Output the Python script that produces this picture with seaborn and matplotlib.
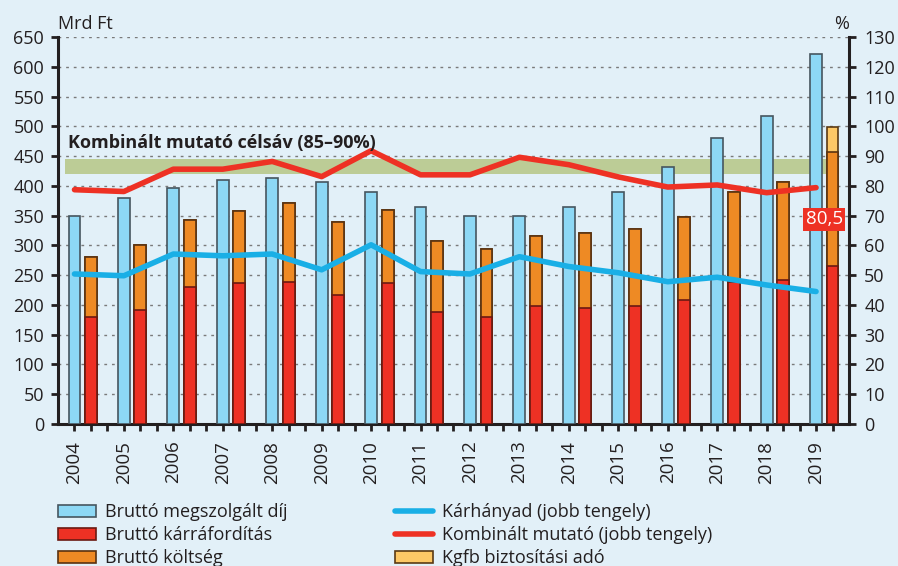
import matplotlib
matplotlib.use("Agg")
import matplotlib.pyplot as plt
from matplotlib.patches import Patch
from matplotlib.lines import Line2D
import numpy as np
import pandas as pd
import seaborn as sns

years = list(range(2004, 2020))
premium = [350, 380, 397, 410, 414, 407, 390, 364, 350, 350, 364, 390, 431, 481, 518, 621]
claims = [179, 192, 230, 236, 239, 216, 236, 188, 179, 199, 195, 199, 208, 238, 242, 266]
costs = [101, 108, 113, 121, 132, 124, 124, 119, 115, 117, 125, 128, 139, 152, 165, 191]
tax = [0, 0, 0, 0, 0, 0, 0, 0, 0, 0, 0, 0, 0, 0, 0, 42]
loss_ratio = [50.4, 49.8, 57.1, 56.5, 57.1, 51.8, 60.2, 51.2, 50.4, 56.2, 52.9, 50.8, 47.8, 49.3, 46.7, 44.5]
combined = [78.7, 78.1, 85.6, 85.6, 88.2, 83.1, 91.8, 83.7, 83.7, 89.6, 87.1, 83.0, 79.6, 80.3, 77.7, 79.4]
last_label = "80,5"
band = (84, 89)  # as drawn (labelled 85-90%)

C_BG = "#E2F0F8"
C_PREM = "#8DD8F5"
C_CLAIM = "#EE3124"
C_COST = "#EE8A24"
C_TAX = "#FDC866"
C_LOSS = "#19AFE6"
C_COMB = "#EE3124"
C_BAND = "#BCCC96"
C_TXT = "#231f20"

df = pd.DataFrame({"year": years, "premium": premium, "claims": claims,
                   "costs": costs, "tax": tax, "loss": loss_ratio, "comb": combined})
df["pos_prem"] = np.arange(len(years)) * 3
df["pos_stack"] = df["pos_prem"] + 1
df["top_cost"] = df["claims"] + df["costs"]
df["top_tax"] = df["top_cost"] + df["tax"]

sns.set_theme(style="ticks")
plt.rcParams["font.family"] = ["Open Sans", "DejaVu Sans"]
plt.rcParams["axes.linewidth"] = 2.2

fig = plt.figure(figsize=(8.98, 5.66), dpi=100, facecolor=C_BG)
ax = fig.add_axes([58 / 898, 1 - 424 / 566, 791 / 898, 387 / 566])
ax.set_facecolor(C_BG)

# target band
ax.axhspan(band[0] * 5, band[1] * 5, xmin=7 / 791, xmax=781 / 791, color=C_BAND, zorder=1, lw=0)

bar_kw = dict(native_scale=True, width=0.24, saturation=1, errorbar=None, ax=ax, zorder=3)
sns.barplot(data=df, x="pos_prem", y="premium", color=C_PREM, edgecolor="#46565f", linewidth=1.2, **bar_kw)
sns.barplot(data=df, x="pos_stack", y="top_tax", color=C_TAX, edgecolor="#5a3a14", linewidth=1.2, **bar_kw)
sns.barplot(data=df, x="pos_stack", y="top_cost", color=C_COST, edgecolor="#5a3210", linewidth=1.2, **bar_kw)
sns.barplot(data=df, x="pos_stack", y="claims", color=C_CLAIM, edgecolor="#6a1a12", linewidth=1.2, **bar_kw)

ax.set_ylim(0, 650)
ax.set_yticks(np.arange(0, 651, 50))
ax.set_xlim(-1, 47)
ax.yaxis.grid(True, color="#7a7a7a", linestyle=(0, (2, 3.5)), linewidth=1.0)
ax.set_axisbelow(True)
for s in ["top", "right"]:
    ax.spines[s].set_visible(False)
for s in ["left", "bottom"]:
    ax.spines[s].set_color(C_TXT)

xt = np.arange(0, 47)
ax.set_xticks(xt)
ax.set_xticklabels([str(years[i // 3]) if i % 3 == 0 else "" for i in xt], rotation=90)
ax.tick_params(axis="x", length=5, width=2, color=C_TXT, labelcolor=C_TXT, labelsize=13.5, pad=7)
ax.tick_params(axis="y", length=5, width=2, color=C_TXT, labelcolor=C_TXT, labelsize=13, pad=5)
ax.set_xlabel("")
ax.set_ylabel("")

ax2 = ax.twinx()
ax2.set_ylim(0, 130)
ax2.set_yticks(np.arange(0, 131, 10))
sns.lineplot(data=df, x="pos_prem", y="loss", color=C_LOSS, lw=4, ax=ax2, zorder=5,
             solid_capstyle="round")
sns.lineplot(data=df, x="pos_prem", y="comb", color=C_COMB, lw=4, ax=ax2, zorder=5,
             solid_capstyle="round")
ax2.set_xlim(-1, 47)
ax2.set_ylabel("")
ax2.set_xlabel("")
for s in ["top", "left", "bottom"]:
    ax2.spines[s].set_visible(False)
ax2.spines["right"].set_color(C_TXT)
ax2.tick_params(axis="y", length=5, width=2, color=C_TXT, labelcolor=C_TXT, labelsize=13, pad=6)

ax2.text(45.5, 68.7, last_label, color="white", fontsize=13.5, ha="center", va="center", zorder=6,
         bbox=dict(boxstyle="square,pad=0.12", fc=C_COMB, ec="none"))

fig.text(68 / 898, 1 - 143 / 566, "Kombinált mutató célsáv (85–90%)", fontsize=13,
         fontweight="bold", color=C_TXT, va="center", ha="left")
fig.text(58 / 898, 1 - 29 / 566, "Mrd Ft", fontsize=13, color=C_TXT, va="baseline", ha="left")
fig.text(849 / 898, 1 - 29 / 566, "%", fontsize=13, color=C_TXT, va="baseline", ha="right")

h1 = [Patch(fc=C_PREM, ec="#46565f", lw=1.2, label="Bruttó megszolgált díj"),
      Patch(fc=C_CLAIM, ec="#6a1a12", lw=1.2, label="Bruttó kárráfordítás"),
      Patch(fc=C_COST, ec="#5a3210", lw=1.2, label="Bruttó költség")]
h2 = [Line2D([], [], color=C_LOSS, lw=4, solid_capstyle="round", label="Kárhányad (jobb tengely)"),
      Line2D([], [], color=C_COMB, lw=4, solid_capstyle="round", label="Kombinált mutató (jobb tengely)"),
      Patch(fc=C_TAX, ec="#5a3a14", lw=1.2, label="Kgfb biztosítási adó")]
leg_kw = dict(loc="upper left", frameon=False, fontsize=13, borderpad=0, borderaxespad=0,
              handlelength=2.1, handleheight=0.65, handletextpad=0.5, labelspacing=0.28,
              labelcolor=C_TXT)
fig.legend(handles=h1, bbox_to_anchor=(58 / 898, 1 - 503 / 566), **leg_kw)
fig.legend(handles=h2, bbox_to_anchor=(395 / 898, 1 - 503 / 566), **leg_kw)

fig.savefig("out.png", dpi=100, facecolor=C_BG)
